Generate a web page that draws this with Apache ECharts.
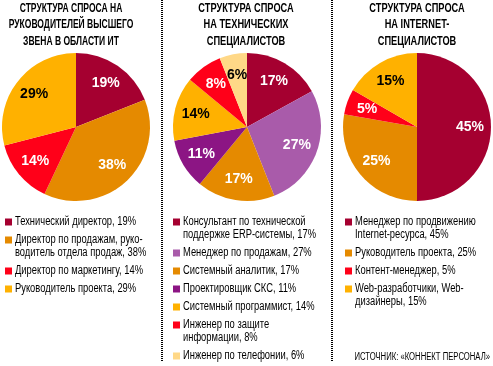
<!DOCTYPE html>
<html><head><meta charset="utf-8">
<script src="https://cdn.jsdelivr.net/npm/echarts@6/dist/echarts.min.js"></script>
<style>html,body{margin:0;padding:0;background:#fff}#c{width:493px;height:366px}</style>
</head><body><div id="c"></div>
<script>
// ---- data ----
const titles = [
  'СТРУКТУРА СПРОСА НА\nРУКОВОДИТЕЛЕЙ ВЫСШЕГО\nЗВЕНА В ОБЛАСТИ ИТ',
  'СТРУКТУРА СПРОСА\nНА ТЕХНИЧЕСКИХ\nСПЕЦИАЛИСТОВ',
  'СТРУКТУРА СПРОСА\nНА INTERNET-\nСПЕЦИАЛИСТОВ'
];
const categories1 = ['Технический директор', 'Директор по продажам, руко-\nводитель отдела продаж', 'Директор по маркетингу', 'Руководитель проекта'];
const values1 = [19, 38, 14, 29];
const categories2 = ['Консультант по технической\nподдержке ERP-системы', 'Менеджер по продажам', 'Системный аналитик', 'Проектировщик СКС', 'Системный программист', 'Инженер по защите\nинформации', 'Инженер по телефонии'];
const values2 = [17, 27, 17, 11, 14, 8, 6];
const categories3 = ['Менеджер по продвижению\nInternet-ресурса', 'Руководитель проекта', 'Контент-менеджер', 'Web-разработчики, Web-\nдизайнеры'];
const values3 = [45, 25, 5, 15];
const sourceText = 'ИСТОЧНИК: «КОННЕКТ ПЕРСОНАЛ»';

// ---- styles ----
const C = {dred:'#A50030', orange:'#E58A00', red:'#FF0019', yellow:'#FFB100', lilac:'#A95BAA', purple:'#8C1584', pale:'#FFD887'};
const colors1 = [C.dred, C.orange, C.red, C.yellow];
const colors2 = [C.dred, C.lilac, C.orange, C.purple, C.yellow, C.red, C.pale];
const colors3 = [C.dred, C.orange, C.red, C.yellow];
const darkText = {[C.yellow]: true, [C.pale]: true};
const FONT = '"Liberation Sans", Arial, sans-serif';

const panels = [
  {cats: categories1, vals: values1, cols: colors1, cx: 76, titleX: 71, titleScale: 0.71, legX: 5},
  {cats: categories2, vals: values2, cols: colors2, cx: 247, titleX: 246, titleScale: 0.77, legX: 173},
  {cats: categories3, vals: values3, cols: colors3, cx: 417, titleX: 417, titleScale: 0.77, legX: 345}
];
const CY = 127, R = 74;
const LEG_SCALE = 0.78;

const series = [];
const graphic = [];

function txt(x, y, text, font, align, sx, fill) {
  return {type:'text', x: x, y: y, scaleX: sx || 1, silent: true,
    style: {text: text, font: font, fill: fill || '#000', align: align, textAlign: align, verticalAlign: 'middle', textVerticalAlign: 'middle'}};
}

panels.forEach(function (p, i) {
  const data = p.vals.map(function (v, j) {
    return {name: p.cats[j].replace('-\n', '').replace('\n', ' '), value: v, itemStyle: {color: p.cols[j]}};
  });
  series.push({type: 'pie', center: [p.cx, CY], radius: [0, R], startAngle: 90, clockwise: true,
    silent: true, animation: false, label: {show: false}, labelLine: {show: false},
    itemStyle: {borderWidth: 0}, data: data});
  series.push({type: 'pie', center: [p.cx, CY], radius: [30, 70], startAngle: 90, clockwise: true,
    silent: true, animation: false, labelLine: {show: false},
    itemStyle: {color: 'rgba(0,0,0,0)', borderWidth: 0},
    label: {show: true, position: 'inside', fontFamily: FONT, fontWeight: 'bold', fontSize: 14,
      formatter: function (q) { return q.value + '%'; }},
    data: p.vals.map(function (v, j) {
      return {name: data[j].name, value: v,
        label: {color: darkText[p.cols[j]] ? '#000' : '#fff'}};
    })});
  // title
  titles[i].split('\n').forEach(function (line, k) {
    graphic.push(txt(p.titleX, 8.5 + k * 16.5, line, 'bold 12px ' + FONT, 'center', p.titleScale));
  });
  // legend
  let y = 222;
  p.cats.forEach(function (cat, j) {
    const lines = (cat + ', ' + p.vals[j] + '%').split('\n');
    graphic.push({type: 'rect', silent: true, shape: {x: p.legX, y: y - 3.5, width: 7, height: 7}, style: {fill: p.cols[j]}});
    lines.forEach(function (line, k) {
      graphic.push(txt(p.legX + 10, y + k * 13, line, '12px ' + FONT, 'left', LEG_SCALE));
    });
    y += lines.length * 13 + 5;
  });
});

// separators
[162, 332].forEach(function (x) {
  graphic.push({type: 'line', silent: true, shape: {x1: x, y1: 0, x2: x, y2: 362},
    style: {stroke: '#000', lineWidth: 2, lineDash: [1, 1]}});
});
graphic.push(txt(490, 357, sourceText, '10px ' + FONT, 'right', 0.77));

const chart = echarts.init(document.getElementById('c'), null, {renderer: 'canvas'});
chart.setOption({animation: false, series: series, graphic: {elements: graphic}});
</script></body></html>
